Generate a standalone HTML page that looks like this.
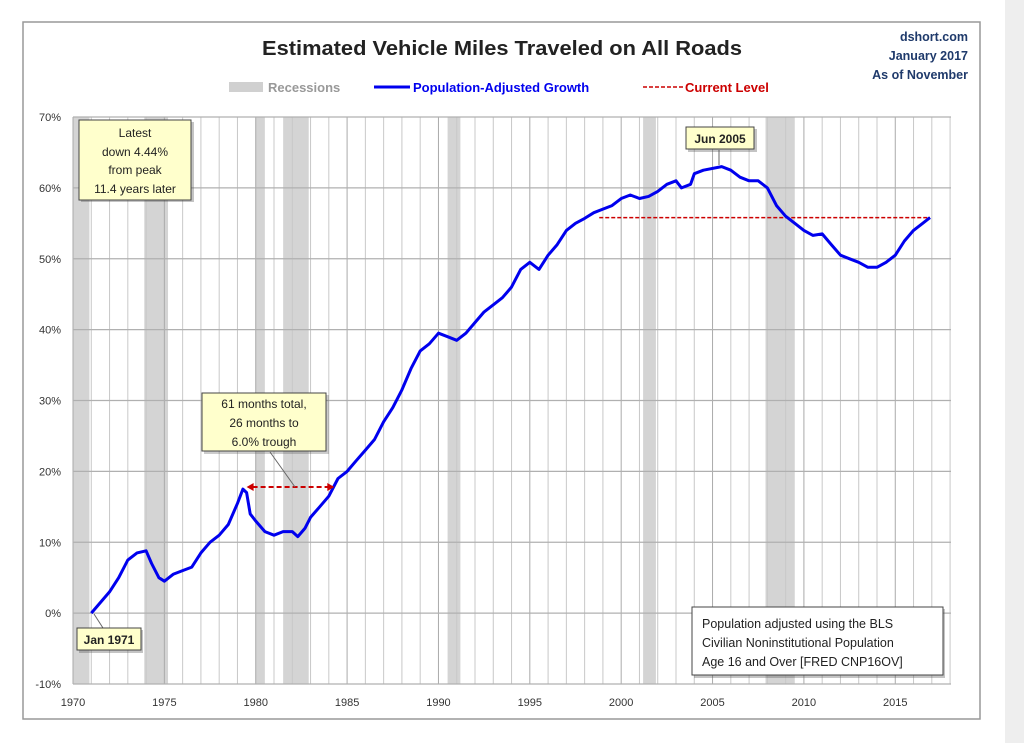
<!DOCTYPE html>
<html><head><meta charset="utf-8"><style>
body{margin:0;width:1024px;height:743px;background:#fff;overflow:hidden;font-family:"Liberation Sans",sans-serif}
</style></head><body>
<svg id="chart" width="1024" height="743" xmlns="http://www.w3.org/2000/svg" font-family="Liberation Sans, sans-serif">
<rect x="1005" y="0" width="19" height="743" fill="#eeeeee"/>
<rect x="23" y="22" width="957" height="697" fill="#fff" stroke="#999" stroke-width="1.5"/>
<text x="502" y="55" text-anchor="middle" font-size="20" font-weight="bold" fill="#222" textLength="480" lengthAdjust="spacingAndGlyphs">Estimated Vehicle Miles Traveled on All Roads</text>
<g font-size="12.5" font-weight="bold" fill="#1f3a6b" text-anchor="end">
<text x="968" y="41">dshort.com</text><text x="968" y="60">January 2017</text><text x="968" y="79">As of November</text></g>
<g font-size="13" font-weight="bold">
<rect x="229" y="82" width="34" height="10" fill="#d0d0d0"/>
<text x="268" y="92" fill="#999">Recessions</text>
<line x1="374" y1="87" x2="410" y2="87" stroke="#0000ee" stroke-width="3"/>
<text x="413" y="92" fill="#0000ee">Population-Adjusted Growth</text>
<line x1="643" y1="87" x2="683" y2="87" stroke="#cc0000" stroke-width="1.5" stroke-dasharray="4,2"/>
<text x="685" y="92" fill="#cc0000">Current Level</text>
</g>
<g id="plot"></g>
</svg>
<script>
const recessionStarts=[1969.9,1973.9,1980.0,1981.5,1990.5,2001.2,2007.9];
const recessionEnds=[1970.9,1975.2,1980.5,1982.9,1991.2,2001.9,2009.5];
const years=[1971,1971.5,1972,1972.5,1973,1973.5,1974,1974.3,1974.7,1975,1975.5,1976,1976.5,1977,1977.5,1978,1978.5,1979,1979.3,1979.5,1979.7,1980,1980.5,1981,1981.5,1982,1982.3,1982.7,1983,1983.5,1984,1984.5,1985,1985.5,1986,1986.5,1987,1987.5,1988,1988.5,1989,1989.5,1990,1990.5,1991,1991.5,1992,1992.5,1993,1993.5,1994,1994.5,1995,1995.5,1996,1996.5,1997,1997.5,1998,1998.5,1999,1999.5,2000,2000.5,2001,2001.5,2002,2002.5,2003,2003.3,2003.8,2004,2004.5,2005.5,2006,2006.5,2007,2007.5,2008,2008.5,2009,2009.5,2010,2010.5,2011,2011.5,2012,2012.5,2013,2013.5,2014,2014.5,2015,2015.5,2016,2016.5,2016.9];
const growth=[0,1.5,3,5,7.5,8.5,8.8,7,5,4.5,5.5,6,6.5,8.5,10,11,12.5,15.5,17.5,17,14,13,11.5,11,11.5,11.5,10.8,12,13.5,15,16.5,19,20,21.5,23,24.5,27,29,31.5,34.5,37,38,39.5,39,38.5,39.5,41,42.5,43.5,44.5,46,48.5,49.5,48.5,50.5,52,54,55,55.7,56.5,57,57.5,58.5,59,58.5,58.8,59.5,60.5,61,60,60.5,62,62.5,63,62.5,61.5,61,61,60,57.5,56,55,54,53.3,53.5,52,50.5,50,49.5,48.8,48.8,49.5,50.5,52.5,54,55,55.8];
const yTicks=[-10,0,10,20,30,40,50,60,70];
const xTicks=[1970,1975,1980,1985,1990,1995,2000,2005,2010,2015];
const currentLevel=55.8, currentStart=1998.8, currentEnd=2016.9;
const arrowStart=1979.5, arrowEnd=1984.3, arrowLevel=17.8;

const X0=73,X1=951,Y0=684,Y1=117,xMin=1970,xMax=2018.05,yMin=-10,yMax=70;
const xs=v=>X0+(v-xMin)/(xMax-xMin)*(X1-X0);
const ys=v=>Y0-(v-yMin)/(yMax-yMin)*(Y0-Y1);
const NS='http://www.w3.org/2000/svg';
const plot=document.getElementById('plot');
function mk(tag,attrs,parent){const e=document.createElementNS(NS,tag);for(const k in attrs)e.setAttribute(k,attrs[k]);(parent||plot).appendChild(e);return e;}

for(let i=0;i<recessionStarts.length;i++){
  const r=mk('rect',{x:xs(Math.max(recessionStarts[i],xMin)),y:Y1,width:xs(recessionEnds[i])-xs(Math.max(recessionStarts[i],xMin)),height:Y0-Y1,fill:'#d4d4d4'});
  
  
}
for(let y=1970;y<=2018;y++){
  const l=mk('line',{x1:xs(y),x2:xs(y),y1:Y1,y2:Y0,stroke:y%5===0?'#aaa':'#c8c8c8','stroke-width':1});
  
  
}
yTicks.forEach(t=>{
  const l=mk('line',{x1:X0,x2:X1,y1:ys(t),y2:ys(t),stroke:'#b0b0b0','stroke-width':1.3});
  
  
  const tx=mk('text',{x:61,y:ys(t)+4,'text-anchor':'end','font-size':11,fill:'#333'});
  tx.textContent=t+'%';
  
  
});
xTicks.forEach(t=>{
  const tx=mk('text',{x:xs(t),y:706,'text-anchor':'middle','font-size':11,fill:'#333'});
  tx.textContent=t;
  
  
});
const cl=mk('line',{x1:xs(currentStart),x2:xs(currentEnd),y1:ys(currentLevel),y2:ys(currentLevel),stroke:'#cc0000','stroke-width':1.5,'stroke-dasharray':'4,2'});


let d='';
years.forEach((yr,i)=>{d+=(i?'L':'M')+xs(yr).toFixed(1)+','+ys(growth[i]).toFixed(1);});
const line=mk('path',{d:d,fill:'none',stroke:'#0000ee','stroke-width':3,'stroke-linejoin':'round'});


const ar=mk('line',{x1:xs(arrowStart)+6,x2:xs(arrowEnd)-6,y1:ys(arrowLevel),y2:ys(arrowLevel),stroke:'#cc0000','stroke-width':2,'stroke-dasharray':'5,3'});


const ah1=mk('path',{d:`M${xs(arrowStart)},${ys(arrowLevel)} l7,-4 v8z`,fill:'#cc0000'});


const ah2=mk('path',{d:`M${xs(arrowEnd)},${ys(arrowLevel)} l-7,-4 v8z`,fill:'#cc0000'});


</script>
<svg width="1024" height="743" style="position:absolute;left:0;top:0" font-family="Liberation Sans, sans-serif">
<line x1="295" y1="487" x2="270" y2="452" stroke="#666"/>
<line x1="719" y1="150" x2="719" y2="165" stroke="#666"/>
<line x1="94" y1="614" x2="103" y2="628" stroke="#666"/>
<g>
<rect x="81" y="122" width="113" height="80" fill="#555" opacity=".35"/>
<rect x="79" y="120" width="112" height="80" fill="#ffffcc" stroke="#444"/>
<g font-size="12" text-anchor="middle" fill="#222"><text x="135" y="137">Latest</text><text x="135" y="156">down 4.44%</text><text x="135" y="174">from peak</text><text x="135" y="193">11.4 years later</text></g></g>
<g>
<rect x="688" y="129" width="69" height="23" fill="#555" opacity=".35"/>
<rect x="686" y="127" width="68" height="22" fill="#ffffcc" stroke="#444"/>
<text x="720" y="143" font-size="12" font-weight="bold" text-anchor="middle" fill="#222">Jun 2005</text></g>
<g>
<rect x="204" y="395" width="125" height="59" fill="#555" opacity=".3"/>
<rect x="202" y="393" width="124" height="58" fill="#ffffcc" stroke="#444"/>
<g font-size="12" text-anchor="middle" fill="#222"><text x="264" y="408">61 months total,</text><text x="264" y="427">26 months to</text><text x="264" y="446">6.0% trough</text></g></g>
<g>
<rect x="79" y="630" width="64" height="23" fill="#555" opacity=".35"/>
<rect x="77" y="628" width="64" height="22" fill="#ffffcc" stroke="#444"/>
<text x="109" y="644" font-size="12" font-weight="bold" text-anchor="middle" fill="#222">Jan 1971</text></g>
<g>
<rect x="694" y="609" width="251" height="69" fill="#555" opacity=".35"/>
<rect x="692" y="607" width="251" height="68" fill="#fff" stroke="#444"/>
<g font-size="12.5" fill="#222"><text x="702" y="628">Population adjusted using the BLS</text><text x="702" y="647">Civilian Noninstitutional Population</text><text x="702" y="666">Age 16 and Over  [FRED CNP16OV]</text></g></g>
</svg>
</body></html>
